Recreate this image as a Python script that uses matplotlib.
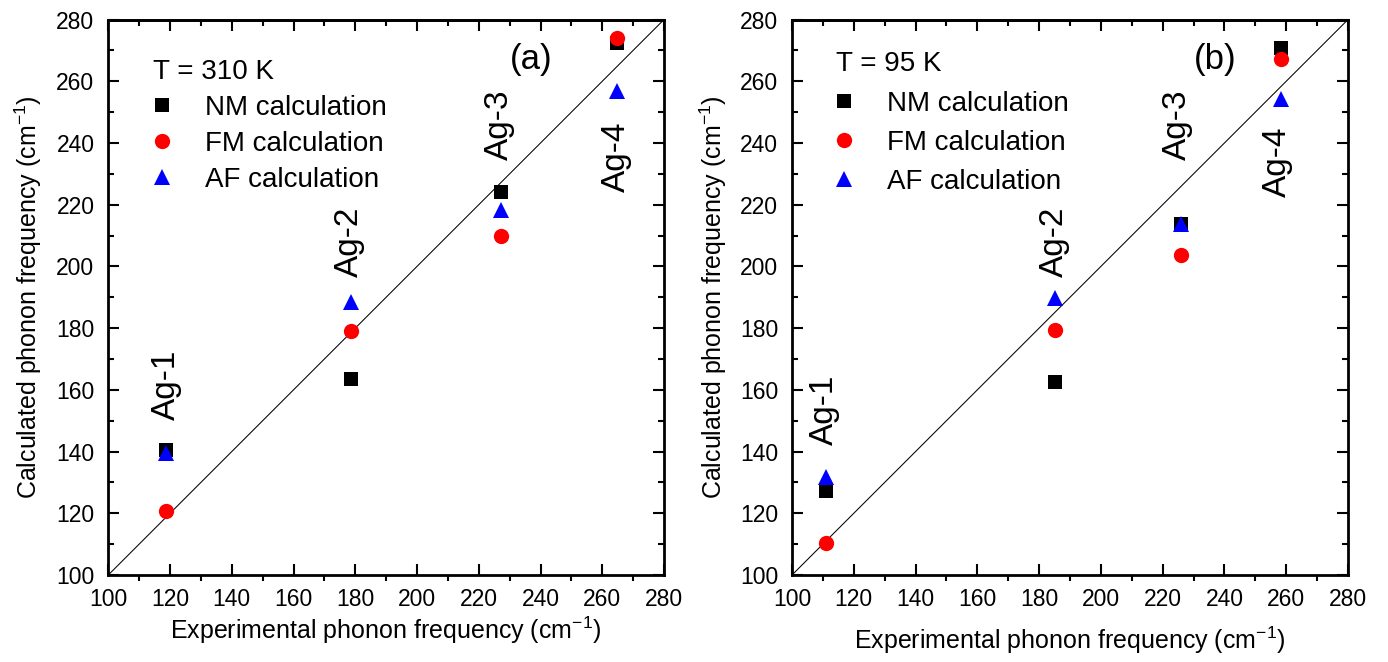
import matplotlib
matplotlib.use("Agg")
import matplotlib.pyplot as plt
from matplotlib.ticker import MultipleLocator

plt.rcParams['font.family'] = ['Liberation Sans', 'DejaVu Sans']
plt.rcParams['mathtext.default'] = 'regular'

# panel (a), T = 310 K
exp_a = [118.7, 178.6, 227.3, 264.7]
nm_a = [140.5, 163.5, 224.0, 272.3]
fm_a = [120.8, 179.2, 209.9, 274.1]
af_a = [139.6, 188.5, 218.2, 256.9]

# panel (b), T = 95 K
exp_b = [110.9, 185.0, 226.0, 258.2]
nm_b = [127.3, 162.6, 213.7, 270.7]
fm_b = [110.3, 179.4, 203.7, 267.1]
af_b = [131.9, 189.8, 213.8, 254.1]

modes = ["Ag-1", "Ag-2", "Ag-3", "Ag-4"]
# where the mode labels sit (x, bottom of text)
lab_x_a = [119.0, 178.0, 226.7, 264.5]
lab_y_a = [150.2, 196.7, 234.5, 224.2]
lab_x_b = [110.5, 184.8, 224.9, 257.2]
lab_y_b = [142.1, 196.7, 234.5, 222.6]

lims = [100, 280]

fig = plt.figure(figsize=(13.88, 6.62), dpi=100)
ax_a = fig.add_axes([0.078, 0.1314, 0.4004, 0.8391])
ax_b = fig.add_axes([0.5706, 0.1314, 0.4006, 0.8391])


def panel(ax, ex, nm, fm, af, lx, ly, temp, tag, spacing, leg_xy, ylab_x, xpad):
    ax.plot(lims, lims, color='black', lw=0.75, zorder=1)
    ax.plot(ex, nm, 's', color='black', ms=10, mew=0, label='NM calculation', zorder=3)
    ax.plot(ex, fm, 'o', color='red', ms=11, mew=0, label='FM calculation', zorder=3)
    ax.plot(ex, af, '^', color='blue', ms=12, mew=0, label='AF calculation', zorder=4)

    for m, x, y in zip(modes, lx, ly):
        ax.text(x, y, m, rotation=90, ha='center', va='bottom', fontsize=24)
    ax.text(237, 267, tag, ha='center', va='center', fontsize=25)

    ax.set_xlim(lims)
    ax.set_ylim(lims)
    ax.xaxis.set_major_locator(MultipleLocator(20))
    ax.xaxis.set_minor_locator(MultipleLocator(10))
    ax.yaxis.set_major_locator(MultipleLocator(20))
    ax.yaxis.set_minor_locator(MultipleLocator(10))
    for s in ax.spines.values():
        s.set_linewidth(2)
    ax.tick_params(axis='x', which='major', direction='in', length=8, width=1.5,
                   top=False, labelsize=16.5, pad=9)
    ax.tick_params(axis='x', which='minor', direction='out', length=4, width=1.5, top=False)
    ax.tick_params(axis='y', which='major', direction='in', length=8, width=1.5,
                   right=True, labelsize=16.5, pad=10)
    ax.tick_params(axis='y', which='minor', direction='in', length=4, width=1.5, right=True)

    top = ax.secondary_xaxis('top')
    top.xaxis.set_major_locator(MultipleLocator(20))
    top.xaxis.set_minor_locator(MultipleLocator(10))
    top.tick_params(which='major', direction='in', length=8, width=1.5, labeltop=False)
    top.tick_params(which='minor', direction='in', length=4, width=1.5)
    top.spines['top'].set_linewidth(2)

    ax.set_xlabel('Experimental phonon frequency (cm$^{-1}$)', fontsize=18, labelpad=xpad)
    ax.set_ylabel('Calculated phonon frequency (cm$^{-1}$)', fontsize=18)
    ax.yaxis.set_label_coords(ylab_x, 0.5)

    ax.legend(loc='upper left', bbox_to_anchor=leg_xy, borderaxespad=0, borderpad=0,
              frameon=False, fontsize=20, title=temp, title_fontsize=20,
              alignment='left', handlelength=0.6, handletextpad=1.25,
              labelspacing=spacing, numpoints=1)


panel(ax_a, exp_a, nm_a, fm_a, af_a, lab_x_a, lab_y_a, 'T = 310 K', '(a)', 0.36,
      (0.081, 0.929), -0.115, 3)
panel(ax_b, exp_b, nm_b, fm_b, af_b, lab_x_b, lab_y_b, 'T = 95 K', '(b)', 0.48,
      (0.079, 0.943), -0.113, 10)

fig.savefig('out.png', dpi=100)
